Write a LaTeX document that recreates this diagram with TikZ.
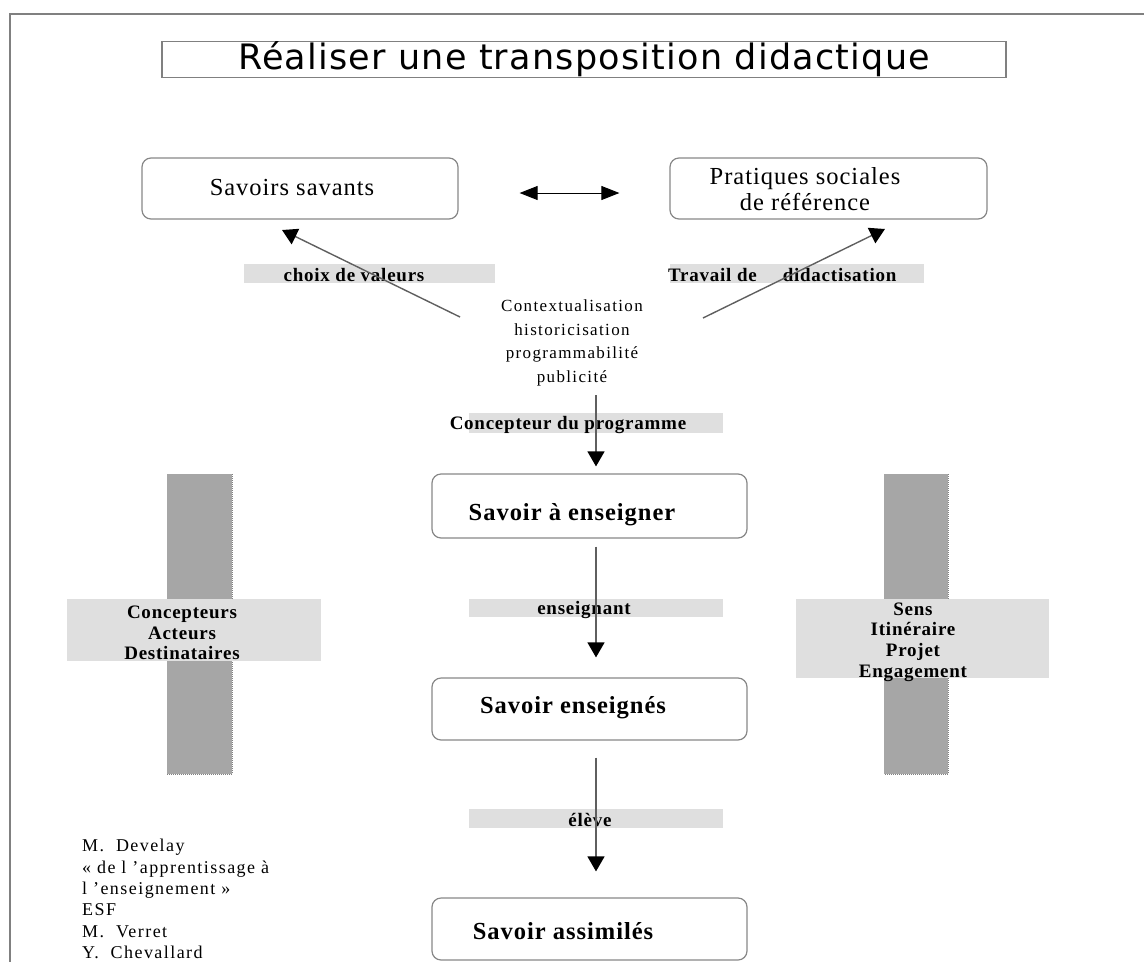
\documentclass[tikz,border=0pt]{standalone}
\usepackage{fontspec}
\setmainfont{Liberation Serif}[LetterSpace=4]
\newfontfamily\smallfont{Liberation Serif}[LetterSpace=8]
\newfontfamily\titlefont{DejaVu Sans}[LetterSpace=3.5]
\usetikzlibrary{arrows.meta}
\definecolor{framegray}{RGB}{128,128,128}
\definecolor{boxgray}{RGB}{135,135,135}
\definecolor{lblgray}{RGB}{223,223,223}
\definecolor{bargray}{RGB}{166,166,166}
\definecolor{linegray}{RGB}{95,95,95}
\begin{document}
\begin{tikzpicture}[x=1pt,y=-1pt,
  rbox/.style={draw=boxgray,line width=1.2pt,rounded corners=9pt,inner sep=0pt},
  boxtxt/.style={inner sep=0pt,font=\fontsize{24.5}{26}\selectfont},
  boldtxt/.style={inner sep=0pt,font=\fontsize{24.5}{26}\selectfont\bfseries},
  lbltxt/.style={inner sep=0pt,font=\fontsize{19}{20.6}\selectfont\bfseries},
  lblbar/.style={fill=lblgray,inner sep=0pt},
  plaintxt/.style={inner sep=0pt,font=\smallfont\fontsize{17}{23.5}\selectfont},
  arr/.style={draw=linegray,line width=1.4pt,-{Triangle[length=15pt,width=17pt,color=black]}},
  dblarr/.style={draw=black,line width=0.9pt,{Triangle[length=18pt,width=14pt]}-{Triangle[length=18pt,width=14pt]}}
]
\useasboundingbox (0,0) rectangle (1144,962);
% outer frame
\draw[framegray,line width=1.6pt] (1144,14) -- (10,14) -- (10,962);
% title
\node[draw=framegray,line width=1.2pt,minimum width=844pt,minimum height=35pt,inner sep=0pt,
      font=\titlefont\fontsize{35}{38}\selectfont] (title) at (584,59.5) {Réaliser une transposition didactique};

% top boxes
\node[rbox,minimum width=316pt,minimum height=61pt] (ss) at (300,188.5) {};
\node[boxtxt] (sst) at (292,188) {Savoirs savants};
\node[rbox,minimum width=317pt,minimum height=61pt] (ps) at (828.5,188.5) {};
\node[boxtxt,align=center] (pst) at (805,189) {Pratiques sociales\\de référence};
\draw[dblarr] ([xshift=61pt,yshift=-4.5pt]ss.east) -- ([xshift=-50pt,yshift=-4.5pt]ps.west);

% label bars top
\node[lblbar,minimum width=251pt,minimum height=19pt] (cvbar) at (369.5,273.5) {};
\node[lbltxt] (cv) at (354,275) {choix de valeurs};
\node[lblbar,minimum width=254pt,minimum height=19pt] (tdbar) at (797,273.5) {};
\node[lbltxt,anchor=west] (td) at (668,275) {Travail de\hspace{26pt}didactisation};

% central text
\node[plaintxt,align=center] (ctx) at (572,343) {Contextualisation\\historicisation\\programmabilité\\publicité};

% diagonal arrows
\coordinate (cl) at (460,317);
\coordinate (tl) at (282,230);
\coordinate (cr) at (703,318);
\coordinate (tr) at (885,229);
\draw[arr] (cl) -- (tl);
\draw[arr] (cr) -- (tr);

% central column
\node[rbox,minimum width=315pt,minimum height=64pt] (sae) at (589.5,506) {};
\node[boldtxt] (saet) at (572,515) {Savoir à enseigner};
\node[rbox,minimum width=315pt,minimum height=62pt] (sen) at (589.5,709) {};
\node[boldtxt] (sent) at (573,708) {Savoir enseignés};
\node[rbox,minimum width=315pt,minimum height=62pt] (sas) at (589.5,929) {};
\node[boldtxt] (sast) at (563,931) {Savoir assimilés};

\node[lblbar,minimum width=254pt,minimum height=20pt] (cpbar) at (596,423) {};
\node[lbltxt] (cp) at (568,425) {Concepteur du programme};
\node[lblbar,minimum width=254pt,minimum height=18pt] (enbar) at (596,608) {};
\node[lbltxt] (en) at (584,610) {enseignant};
\node[lblbar,minimum width=254pt,minimum height=19pt] (elbar) at (596,818.5) {};
\node[lbltxt] (el) at (590,820) {élève};

\coordinate (c1) at (596,395);
\draw[arr] (c1) -- ([xshift=6.5pt,yshift=7pt]sae.north);
\draw[arr] ([xshift=6.5pt,yshift=-8pt]sae.south) -- ([xshift=6.5pt,yshift=20pt]sen.north);
\draw[arr] ([xshift=6.5pt,yshift=-17pt]sen.south) -- ([xshift=6.5pt,yshift=26pt]sas.north);

% side bars
\fill[bargray] (167,474) rectangle (232,774);
\draw[densely dotted,framegray,line width=1pt] (232,474) -- (232,774) -- (167,774);
\fill[bargray] (884,474) rectangle (948,774);
\draw[densely dotted,framegray,line width=1pt] (948,474) -- (948,774) -- (884,774);
\node[lblbar,minimum width=254pt,minimum height=62pt] (lbar) at (194,630) {};
\node[lbltxt,align=center] (lt) at (182,633) {Concepteurs\\Acteurs\\Destinataires};
\node[lblbar,minimum width=253pt,minimum height=79pt] (rbar) at (922.5,638.5) {};
\node[lbltxt,align=center] (rt) at (913,642) {Sens\\Itinéraire\\Projet\\Engagement};

% references
\node[inner sep=0pt,align=left,anchor=north west,font=\smallfont\fontsize{18}{21.4}\selectfont] (refs) at (82,839)
 {M.\ \ Develay\\« de l ’apprentissage à\\l ’enseignement »\\ESF\\M.\ \ Verret\\Y.\ \ Chevallard};
\end{tikzpicture}
\end{document}
